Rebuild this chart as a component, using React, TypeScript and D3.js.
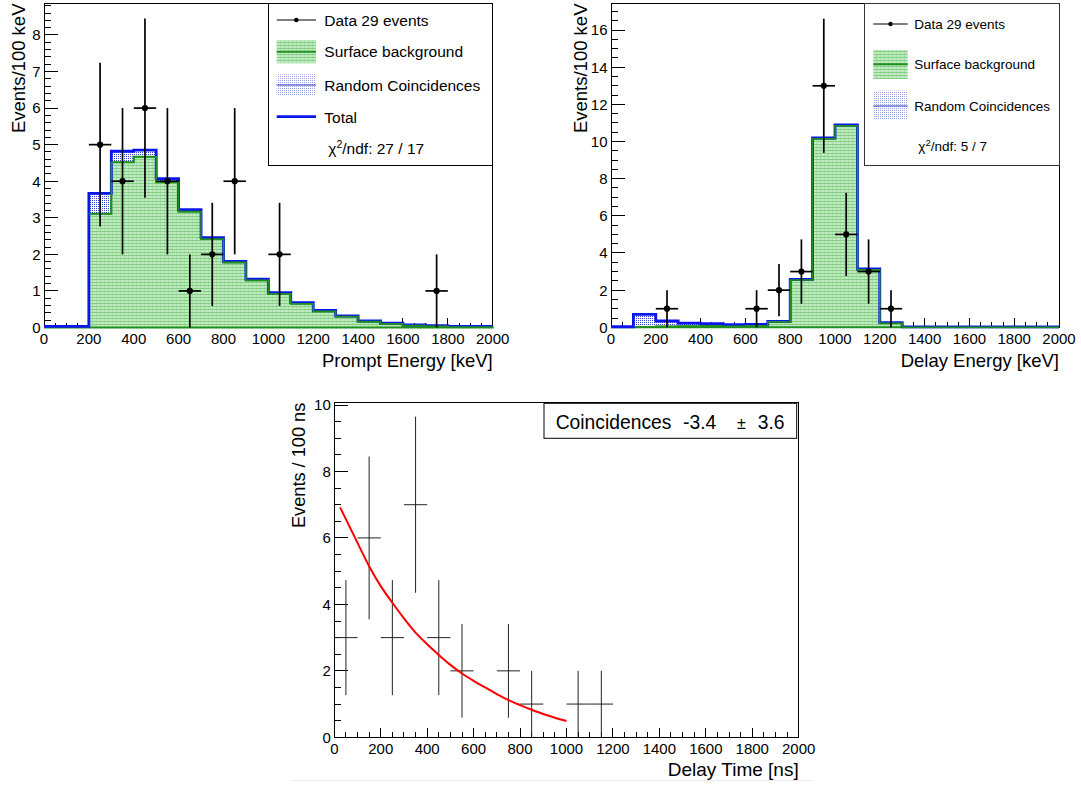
import React from "react";
import * as d3 from "d3";

const FONT = '"Liberation Sans", Arial, Helvetica, sans-serif';

// ---- Data ----
// Energy histogram bins (low edges, keV), width 100 keV
const energyBins = [0, 100, 200, 300, 400, 500, 600, 700, 800, 900, 1000, 1100, 1200, 1300, 1400, 1500, 1600, 1700, 1800, 1900];
const energyMax = 2000;
const energyTickLabels = ["0", "200", "400", "600", "800", "1000", "1200", "1400", "1600", "1800", "2000"];

// Prompt energy panel
const promptSurface = [0, 0, 3.11, 4.52, 4.67, 3.97, 3.17, 2.42, 1.78, 1.29, 0.92, 0.65, 0.44, 0.3, 0.16, 0.1, 0.05, 0.03, 0.01, 0.01];
const promptRandom = [0.03, 0.03, 0.56, 0.3, 0.18, 0.1, 0.05, 0.04, 0.03, 0.03, 0.03, 0.03, 0.03, 0.02, 0.02, 0.02, 0.02, 0.02, 0.02, 0.02];
const promptDataX = [250, 350, 450, 550, 650, 750, 850, 1050, 1750];
const promptDataY = [5, 4, 6, 4, 1, 2, 4, 2, 1];
const promptDataErr = [2.24, 2, 2.45, 2, 1, 1.41, 2, 1.41, 1];

// Delay energy panel
const delaySurface = [0, 0.02, 0.04, 0.06, 0.07, 0.06, 0.08, 0.29, 2.55, 10.15, 10.85, 3.1, 0.22, 0, 0, 0, 0, 0, 0, 0];
const delayRandom = [0.03, 0.68, 0.3, 0.16, 0.13, 0.08, 0.08, 0.03, 0.03, 0.05, 0.05, 0.05, 0.03, 0.02, 0.02, 0.02, 0.02, 0.02, 0.02, 0.02];
const delayDataX = [250, 650, 750, 850, 950, 1050, 1150, 1250];
const delayDataY = [1, 1, 2, 3, 13, 5, 3, 1];
const delayDataErr = [1, 1, 1.41, 1.73, 3.61, 2.24, 1.73, 1];

// Delay time panel
const timeDataX = [50, 150, 250, 350, 450, 550, 750, 850, 1050, 1150];
const timeDataY = [3, 6, 3, 7, 3, 2, 2, 1, 1, 1];
const timeDataErr = [1.73, 2.45, 1.73, 2.65, 1.73, 1.41, 1.41, 1, 1, 1];
const fitT = [25, 100, 150, 200, 250, 300, 350, 400, 450, 500, 550, 600, 650, 700, 750, 800, 850, 900, 950, 1000];
const fitY = [6.92, 5.85, 5.15, 4.55, 4.05, 3.58, 3.15, 2.8, 2.48, 2.18, 1.92, 1.7, 1.5, 1.3, 1.12, 0.97, 0.83, 0.7, 0.59, 0.49];

type Frame = { l: number; r: number; t: number; b: number };

function Axes({ x, y, frame, yMax, yStep, yMinorStep, yLabels }: any) {
  const xMajor = d3.range(0, energyMax + 1, 200);
  const xMinor = d3.range(0, energyMax + 1, 50).filter((v) => v % 200 !== 0);
  const yMajor = d3.range(0, yMax + 1e-9, yStep);
  const yMinor = d3.range(0, yMax + 1e-9, yMinorStep).filter((v) => Math.abs(v / yStep - Math.round(v / yStep)) > 1e-6);
  return (
    <g shapeRendering="crispEdges" stroke="#000" strokeWidth={1}>
      {xMajor.map((v) => (
        <line key={"xM" + v} x1={x(v)} x2={x(v)} y1={frame.b} y2={frame.b - 9.5} />
      ))}
      {xMinor.map((v) => (
        <line key={"xm" + v} x1={x(v)} x2={x(v)} y1={frame.b} y2={frame.b - 5} />
      ))}
      {yMajor.map((v) => (
        <line key={"yM" + v} x1={frame.l} x2={frame.l + 14} y1={y(v)} y2={y(v)} />
      ))}
      {yMinor.map((v) => (
        <line key={"ym" + v} x1={frame.l} x2={frame.l + 7} y1={y(v)} y2={y(v)} />
      ))}
      <g stroke="none" fill="#000" fontFamily={FONT} fontSize={15}>
        {xMajor.map((v, i) => (
          <text key={"xl" + v} x={x(v)} y={frame.b + 16.8} textAnchor="middle">
            {energyTickLabels[i]}
          </text>
        ))}
        {yMajor.map((v, i) => (
          <text key={"yl" + v} x={frame.l - 3.5} y={y(v)} dy="0.36em" textAnchor="end">
            {yLabels[i]}
          </text>
        ))}
      </g>
    </g>
  );
}

function DataPoints({ x, y, xs, ys, errs, marker, color, width }: any) {
  return (
    <g stroke={color} strokeWidth={width}>
      {xs.map((v: number, i: number) => (
        <g key={i}>
          <line x1={x(v - 50)} x2={x(v + 50)} y1={y(ys[i])} y2={y(ys[i])} />
          <line x1={x(v)} x2={x(v)} y1={y(Math.max(0, ys[i] - errs[i]))} y2={y(ys[i] + errs[i])} />
          {marker && <circle cx={x(v)} cy={y(ys[i])} r={3.1} fill={color} stroke="none" />}
        </g>
      ))}
    </g>
  );
}

function EnergyPanel({ frame, yMax, yStep, yMinorStep, surface, random, dx, dy, derr, xTitle, yTitleX }: any) {
  const x = d3.scaleLinear().domain([0, energyMax]).range([frame.l, frame.r]);
  const y = d3.scaleLinear().domain([0, yMax]).range([frame.b, frame.t]);
  const total = surface.map((s: number, i: number) => s + random[i]);
  const pts = (arr: number[]) => [...energyBins.map((b, i) => [b, arr[i]]), [energyMax, arr[arr.length - 1]]];
  const surfPts = pts(surface);
  const totPts = pts(total);
  const area = d3
    .area<any>()
    .x((d) => x(d[0]))
    .y0((d) => y(d[2] ?? 0))
    .y1((d) => y(d[1]))
    .curve(d3.curveStepAfter);
  const line = d3
    .line<any>()
    .x((d) => x(d[0]))
    .y((d) => y(d[1]))
    .curve(d3.curveStepAfter);
  const randPts = totPts.map((p, i) => [p[0], p[1], surfPts[i][1]]);
  const yLabels = d3.range(0, yMax + 1e-9, yStep).map((v) => String(v));
  return (
    <g>
      <rect x={frame.l} y={frame.t} width={frame.r - frame.l} height={frame.b - frame.t} fill="#fff" stroke="#000" shapeRendering="crispEdges" />
      <Axes x={x} y={y} frame={frame} yMax={yMax} yStep={yStep} yMinorStep={yMinorStep} yLabels={yLabels} />
      <path d={area(randPts) || ""} fill="url(#bluePat)" stroke="none" />
      <path d={area(surfPts) || ""} fill="url(#greenPat)" stroke="#1f8f1f" strokeWidth={2} />
      <path d={line(totPts) || ""} fill="none" stroke="#0b16ee" strokeWidth={2.8} />
      <path d={line(surfPts.slice(2)) || ""} fill="none" stroke="#1f8f1f" strokeWidth={1.6} />
      <DataPoints x={x} y={y} xs={dx} ys={dy} errs={derr} marker color="#000" width={1.7} />
      <text x={frame.r} y={frame.b + 39.5} textAnchor="end" fontFamily={FONT} fontSize={18.5}>
        {xTitle}
      </text>
      <text transform={`translate(${yTitleX},${frame.t}) rotate(-90)`} textAnchor="end" fontFamily={FONT} fontSize={18.5}>
        Events/100 keV
      </text>
    </g>
  );
}

function TimePanel() {
  const frame: Frame = { l: 334.3, r: 798.7, t: 402.7, b: 737.3 };
  const yMax = 10.07;
  const x = d3.scaleLinear().domain([0, energyMax]).range([frame.l, frame.r]);
  const y = d3.scaleLinear().domain([0, yMax]).range([frame.b, frame.t]);
  const fitLine = d3
    .line<number>()
    .x((d) => x(d))
    .y((d, i) => y(fitY[i]))
    .curve(d3.curveMonotoneX);
  const yLabels = ["0", "2", "4", "6", "8", "10"];
  return (
    <g>
      <rect x={frame.l} y={frame.t} width={frame.r - frame.l} height={frame.b - frame.t} fill="#fff" stroke="#000" shapeRendering="crispEdges" />
      <Axes x={x} y={y} frame={frame} yMax={yMax} yStep={2} yMinorStep={0.5} yLabels={yLabels} />
      <DataPoints x={x} y={y} xs={timeDataX} ys={timeDataY} errs={timeDataErr} marker={false} color="#222" width={1} />
      <path d={fitLine(fitT) || ""} fill="none" stroke="#f00" strokeWidth={2} />
      <rect x={544} y={403.3} width={252.7} height={35} fill="#fff" stroke="#000" strokeWidth={1} />
      <g fontFamily={FONT} fontSize={19.3} fill="#000">
        <text x={555.7} y={429}>Coincidences</text>
        <text x={683} y={429}>-3.4</text>
        <text x={737} y={429} fontSize={16}>±</text>
        <text x={757.7} y={429}>3.6</text>
      </g>
      <text x={frame.r} y={775.6} textAnchor="end" fontFamily={FONT} fontSize={19}>
        Delay Time [ns]
      </text>
      <text transform={`translate(305,${frame.t}) rotate(-90)`} textAnchor="end" fontFamily={FONT} fontSize={18.2}>
        Events / 100 ns
      </text>
      <line x1={292} x2={812} y1={780.5} y2={780.5} stroke="#ececec" strokeWidth={1} />
    </g>
  );
}

function LegendLeft() {
  const sx1 = 276.7, sx2 = 316, tx = 324.3;
  return (
    <g fontFamily={FONT} fontSize={15.5}>
      <rect x={268.5} y={3.5} width={224.2} height={161.5} fill="#fff" stroke="#000" shapeRendering="crispEdges" />
      <line x1={sx1} x2={sx2} y1={20} y2={20} stroke="#000" strokeWidth={1.2} />
      <circle cx={(sx1 + sx2) / 2} cy={20} r={2.3} fill="#000" />
      <text x={tx} y={26}>Data 29 events</text>
      <rect x={sx1} y={40} width={sx2 - sx1} height={23.3} fill="url(#greenPat)" />
      <line x1={sx1} x2={sx2} y1={51.7} y2={51.7} stroke="#1f8f1f" strokeWidth={2} />
      <text x={tx} y={56.7}>Surface background</text>
      <rect x={sx1} y={74.3} width={sx2 - sx1} height={21.4} fill="url(#bluePatLight)" />
      <line x1={sx1} x2={sx2} y1={85} y2={85} stroke="#3a3aa8" strokeWidth={1} />
      <text x={tx} y={90.7}>Random Coincidences</text>
      <line x1={sx1} x2={sx2} y1={116.7} y2={116.7} stroke="#0b16ee" strokeWidth={2.8} />
      <text x={tx} y={123.3}>Total</text>
      <text x={328.3} y={154}>
        χ<tspan dy={-6} fontSize={10.5}>2</tspan>
        <tspan dy={6}>/ndf: 27 / 17</tspan>
      </text>
    </g>
  );
}

function LegendRight() {
  const sx1 = 873.3, sx2 = 907.7, tx = 914.3;
  return (
    <g fontFamily={FONT} fontSize={13.5}>
      <rect x={864.5} y={3.5} width={194.5} height={162} fill="#fff" stroke="#333" shapeRendering="crispEdges" />
      <line x1={sx1} x2={sx2} y1={24} y2={24} stroke="#000" strokeWidth={1.2} />
      <circle cx={(sx1 + sx2) / 2} cy={24} r={2.2} fill="#000" />
      <text x={tx} y={29}>Data 29 events</text>
      <rect x={sx1} y={50} width={sx2 - sx1} height={29} fill="url(#greenPat)" />
      <line x1={sx1} x2={sx2} y1={64.3} y2={64.3} stroke="#1f8f1f" strokeWidth={2} />
      <text x={tx} y={69.3}>Surface background</text>
      <rect x={sx1} y={90.7} width={sx2 - sx1} height={28.6} fill="url(#bluePatLight)" />
      <line x1={sx1} x2={sx2} y1={106} y2={106} stroke="#3a3aa8" strokeWidth={1} />
      <text x={tx} y={111}>Random Coincidences</text>
      <text x={918.3} y={150.7}>
        χ<tspan dy={-5} fontSize={9.5}>2</tspan>
        <tspan dy={5}>/ndf: 5 / 7</tspan>
      </text>
    </g>
  );
}

export default function App() {
  return (
    <svg width={1081} height={787} style={{ position: "absolute", left: 0, top: 0, background: "#fff" }}>
      <defs>
        <pattern id="greenPat" width={4} height={3} patternUnits="userSpaceOnUse">
          <rect width={4} height={3} fill="#c2eac2" />
          <rect width={4} height={1} fill="#84cf84" />
          <rect x={0} y={1} width={1} height={2} fill="#a9dfa9" />
        </pattern>
        <pattern id="bluePat" width={2} height={2} patternUnits="userSpaceOnUse">
          <rect width={2} height={2} fill="#fff" />
          <rect width={1} height={1} fill="#3444cc" />
        </pattern>
        <pattern id="bluePatLight" width={2} height={2} patternUnits="userSpaceOnUse">
          <rect width={2} height={2} fill="#fff" />
          <rect width={1} height={1} fill="#9aa2e6" />
        </pattern>
      </defs>
      <rect width={1081} height={787} fill="#fff" />
      <EnergyPanel
        frame={{ l: 44, r: 492.7, t: 3.5, b: 327.5 }}
        yMax={8.86}
        yStep={1}
        yMinorStep={0.2}
        surface={promptSurface}
        random={promptRandom}
        dx={promptDataX}
        dy={promptDataY}
        derr={promptDataErr}
        xTitle="Prompt Energy [keV]"
        yTitleX={24.5}
      />
      <EnergyPanel
        frame={{ l: 611, r: 1059, t: 3.5, b: 327.3 }}
        yMax={17.43}
        yStep={2}
        yMinorStep={0.5}
        surface={delaySurface}
        random={delayRandom}
        dx={delayDataX}
        dy={delayDataY}
        derr={delayDataErr}
        xTitle="Delay Energy [keV]"
        yTitleX={587}
      />
      <LegendLeft />
      <LegendRight />
      <TimePanel />
    </svg>
  );
}
